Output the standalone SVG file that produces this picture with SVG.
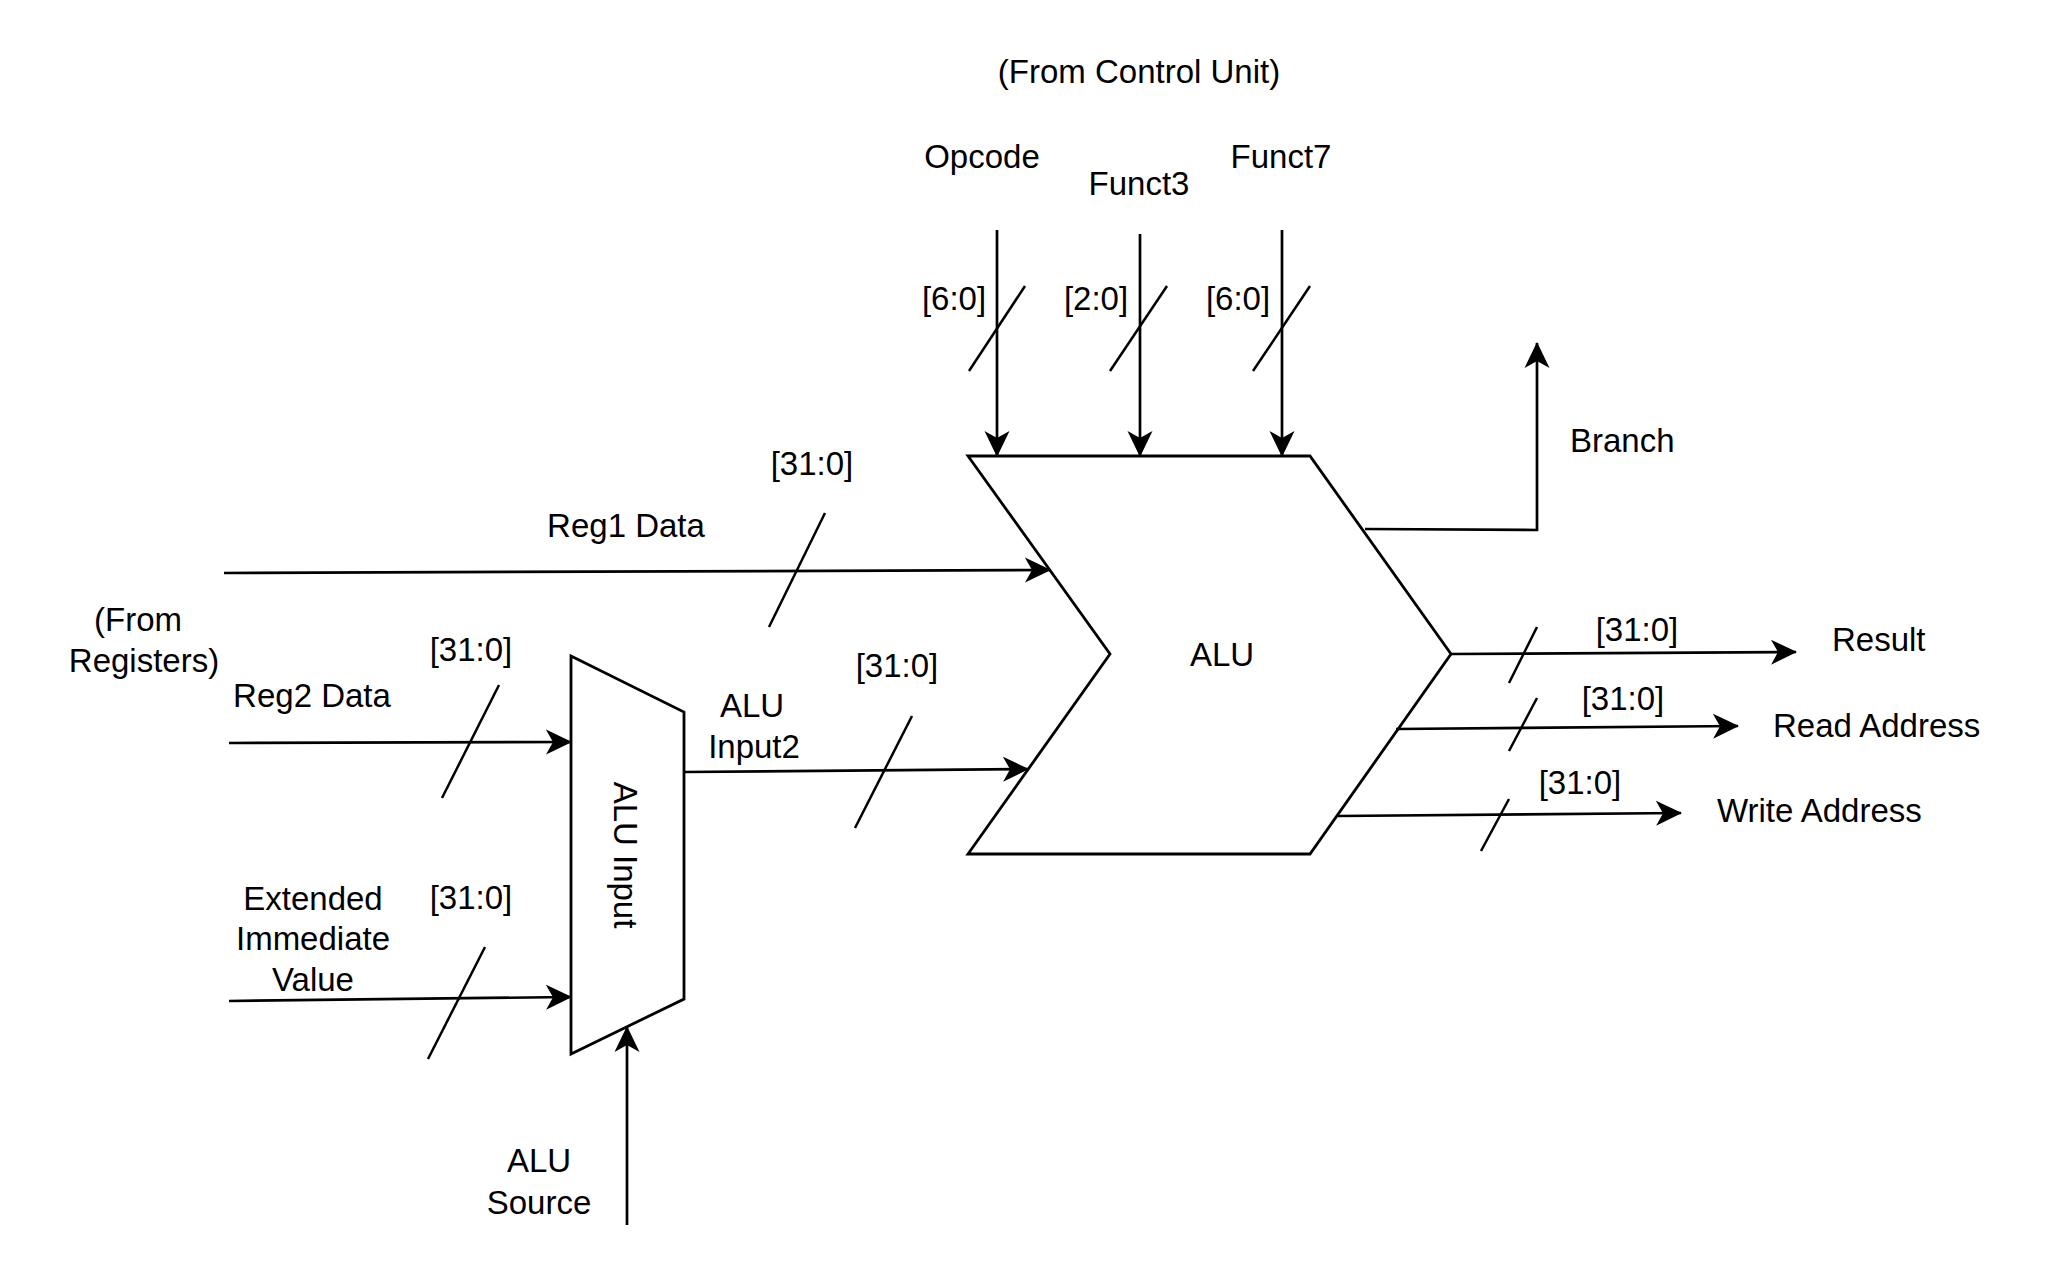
<svg xmlns="http://www.w3.org/2000/svg" width="2048" height="1277" viewBox="0 0 2048 1277">
<defs>
<style>
.t{font-family:"Liberation Sans",Arial,sans-serif;font-size:33px;fill:#000}
.m{text-anchor:middle}
.ln{fill:none;stroke:#000;stroke-width:2.7}
.ar{marker-end:url(#arr)}
.sl{fill:none;stroke:#000;stroke-width:2.5}
.shape{fill:#fff;stroke:#000;stroke-width:2.8;stroke-linejoin:miter}
</style>
<marker id="arr" markerUnits="userSpaceOnUse" viewBox="0 0 26 26" refX="25" refY="13" markerWidth="26" markerHeight="26" orient="auto">
<path d="M0,0.5 L26,13 L0,25.5 L7,13 Z" fill="#000"/>
</marker>
</defs>
<rect width="2048" height="1277" fill="#fff"/>

<g id="alu">
<polygon class="shape" points="968,456 1310,456 1451,654 1310,854 968,854 1110,654"/>
<text class="t m" x="1222" y="666">ALU</text>
</g>

<g id="mux">
<polygon class="shape" points="571,656 684,712 684,999 571,1054"/>
<text class="t m" transform="translate(614,855) rotate(90)" x="0" y="0">ALU Input</text>
</g>

<g id="connectors">
<path class="ln ar" d="M997,230 V456"/>
<path class="ln ar" d="M1140,234 V456"/>
<path class="ln ar" d="M1282,230 V456"/>
<path class="ln ar" d="M224,573 L1050,570"/>
<path class="ln ar" d="M229,743 L571,742"/>
<path class="ln ar" d="M229,1001 L571,997"/>
<path class="ln ar" d="M627,1225 V1027"/>
<path class="ln ar" d="M684,772 L1028,769"/>
<path class="ln ar" d="M1365,529 L1537,530 L1537,343"/>
<path class="ln ar" d="M1451,654 L1796,652"/>
<path class="ln ar" d="M1396,729 L1738,726"/>
<path class="ln ar" d="M1338,816 L1681,813"/>
</g>

<g id="bus-slashes">
<line class="sl" x1="969" y1="371" x2="1025" y2="286"/>
<line class="sl" x1="1110" y1="371" x2="1167" y2="286"/>
<line class="sl" x1="1253" y1="371" x2="1310" y2="286"/>
<line class="sl" x1="769" y1="627" x2="825" y2="513"/>
<line class="sl" x1="442" y1="798" x2="499" y2="685"/>
<line class="sl" x1="428" y1="1059" x2="485" y2="947"/>
<line class="sl" x1="855" y1="828" x2="912" y2="716"/>
<line class="sl" x1="1509" y1="683" x2="1537" y2="627"/>
<line class="sl" x1="1509" y1="751" x2="1537" y2="698"/>
<line class="sl" x1="1481" y1="851" x2="1509" y2="799"/>
</g>

<g id="control-labels">
<text class="t m" x="1139" y="83">(From Control Unit)</text>
<text class="t m" x="982" y="168">Opcode</text>
<text class="t m" x="1139" y="195">Funct3</text>
<text class="t m" x="1281" y="168">Funct7</text>
<text class="t m" x="954" y="310">[6:0]</text>
<text class="t m" x="1096" y="310">[2:0]</text>
<text class="t m" x="1238" y="310">[6:0]</text>
</g>

<g id="input-labels">
<text class="t m" x="812" y="475">[31:0]</text>
<text class="t m" x="626" y="537">Reg1 Data</text>
<text class="t m" x="138" y="631">(From</text>
<text class="t m" x="144" y="672">Registers)</text>
<text class="t m" x="312" y="707">Reg2 Data</text>
<text class="t m" x="471" y="661">[31:0]</text>
<text class="t m" x="471" y="909">[31:0]</text>
<text class="t m" x="313" y="910">Extended</text>
<text class="t m" x="313" y="950">Immediate</text>
<text class="t m" x="313" y="991">Value</text>
<text class="t m" x="539" y="1172">ALU</text>
<text class="t m" x="539" y="1214">Source</text>
<text class="t m" x="752" y="717">ALU</text>
<text class="t m" x="754" y="758">Input2</text>
<text class="t m" x="897" y="677">[31:0]</text>
</g>

<g id="output-labels">
<text class="t" x="1570" y="452">Branch</text>
<text class="t m" x="1637" y="641">[31:0]</text>
<text class="t" x="1832" y="651">Result</text>
<text class="t m" x="1623" y="710">[31:0]</text>
<text class="t" x="1773" y="737">Read Address</text>
<text class="t m" x="1580" y="794">[31:0]</text>
<text class="t" x="1717" y="822">Write Address</text>
</g>
</svg>
